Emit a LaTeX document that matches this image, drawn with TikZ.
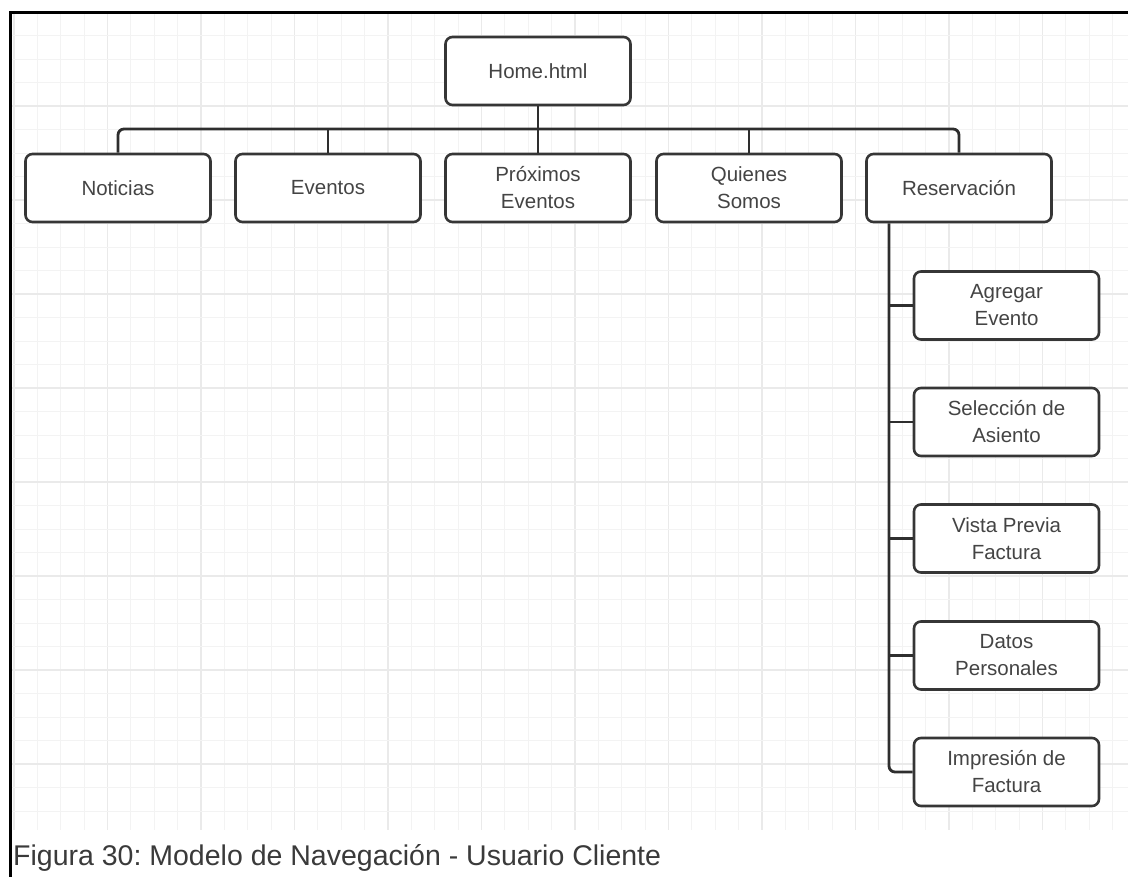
\documentclass[tikz,border=0pt]{standalone}
\usepackage{fontspec}
\setmainfont{Liberation Sans}
\frenchspacing
\definecolor{boxc}{HTML}{363636}
\definecolor{linec}{HTML}{2E2E2E}
\definecolor{txtc}{HTML}{444444}
\definecolor{capc}{HTML}{3A3A3A}
\definecolor{gridminor}{HTML}{F3F3F3}
\definecolor{gridmajor}{HTML}{EAEAEA}
\begin{document}
\begin{tikzpicture}[x=1pt,y=-1pt,
  box/.style={draw=boxc, line width=2.6pt, rounded corners=7pt, fill=white,
    minimum width=185pt, minimum height=68pt, align=center, inner sep=0pt,
    font=\fontsize{20.5}{27}\selectfont, text=txtc},
  link/.style={draw=linec, line width=2.8pt},
  minorline/.style={draw=gridminor, line width=0.9pt},
  majorline/.style={draw=gridmajor, line width=1.1pt}]
\useasboundingbox (0,0) rectangle (1128,877);
\fill[white] (0,0) rectangle (1128,877);

% background grid
\begin{scope}
  \clip (12,12) rectangle (1128,830);
  \foreach \i in {0,...,48} {
    \pgfmathtruncatemacro{\m}{mod(\i,4)}
    \ifnum\m=0
      \draw[majorline] ({14+23.375*\i},12) -- ({14+23.375*\i},830);
    \else
      \draw[minorline] ({14+23.375*\i},12) -- ({14+23.375*\i},830);
    \fi
  }
  \foreach \j in {0,...,35} {
    \pgfmathtruncatemacro{\m}{mod(\j,4)}
    \ifnum\m=0
      \draw[majorline] (12,{12+23.5*\j}) -- (1128,{12+23.5*\j});
    \else
      \draw[minorline] (12,{12+23.5*\j}) -- (1128,{12+23.5*\j});
    \fi
  }
\end{scope}

% frame
\draw[black, line width=3.6pt] (10.5,877) -- (10.5,12.5) -- (1128,12.5);

% root
\node[box] (home) at (538,71) {Home.html};

% first level
\node[box] (noticias) at (118,188) {Noticias};
\node[box] (eventos) at (328,188) {Eventos};
\node[box] (proximos) at (538,188) {Próximos\\Eventos};
\node[box] (quienes) at (749,188) {Quienes\\Somos};
\node[box] (reserv) at (959,188) {Reservación};

% reservation steps
\node[box] (agregar) at (1006.5,305.5) {Agregar\\Evento};
\node[box] (seleccion) at (1006.5,422) {Selección de\\Asiento};
\node[box] (vista) at (1006.5,538.5) {Vista Previa\\Factura};
\node[box] (datos) at (1006.5,655.5) {Datos\\Personales};
\node[box] (impresion) at (1006.5,772) {Impresión de\\Factura};

% connectors
\coordinate (bus) at (538,129);
\coordinate (trunk) at (889,0);
\draw[link] (home.south) -- (bus);
\draw[link, rounded corners=6pt] (noticias.north) |- (bus) -| (reserv.north);
\draw[link] (eventos.north) -- (eventos.north |- bus);
\draw[link, line width=2pt] (proximos.north) -- (bus);
\draw[link] (quienes.north) -- (quienes.north |- bus);

\draw[link, rounded corners=6pt] (reserv.south -| trunk) |- (impresion.west);
\draw[link] (agregar.west -| trunk) -- (agregar.west);
\draw[link] (seleccion.west -| trunk) -- (seleccion.west);
\draw[link] (vista.west -| trunk) -- (vista.west);
\draw[link] (datos.west -| trunk) -- (datos.west);

% caption
\node[anchor=base west, inner sep=0pt, text=capc,
  font=\fontsize{28.5}{32}\selectfont] (caption) at (13,865)
  {Figura 30: Modelo de Navegación - Usuario Cliente};
\end{tikzpicture}
\end{document}
